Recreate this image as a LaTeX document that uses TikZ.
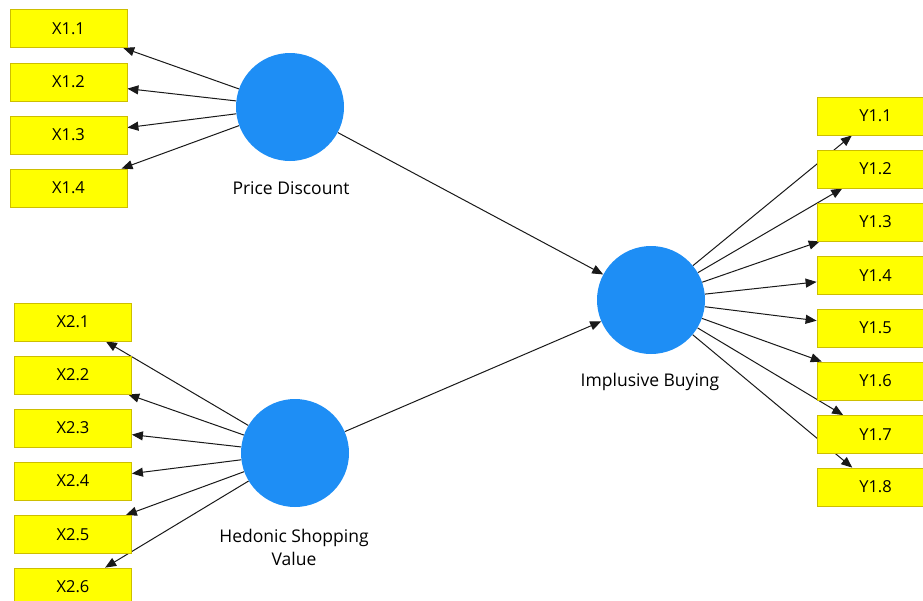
\documentclass[tikz,border=0pt]{standalone}
\usepackage{fontspec}
\setmainfont{Open Sans}
\usetikzlibrary{arrows.meta,backgrounds}
\definecolor{lvblue}{RGB}{30,142,245}
\definecolor{mvyellow}{RGB}{255,255,0}
\definecolor{mvborder}{RGB}{205,190,0}
\tikzset{
  lv/.style={circle,fill=lvblue,draw=none,minimum size=108pt,inner sep=0pt},
  mv/.style={rectangle,fill=mvyellow,draw=mvborder,line width=0.8pt,minimum width=117pt,minimum height=38pt,inner sep=0pt,font=\fontsize{16.5}{18}\selectfont},
  lbl/.style={font=\fontsize{17.5}{23}\selectfont,align=center,inner sep=0pt},
  link/.style={draw=black!90,line width=1pt,-{Triangle[length=11pt,width=9pt]}}
}
\begin{document}
\begin{tikzpicture}[x=1pt,y=-1pt]
\useasboundingbox (0,0) rectangle (923,600);
\clip (0,0) rectangle (923,600);
% latent variables
\node[lv] (pd) at (290,107) {};
\node[lv] (hs) at (295,453) {};
\node[lv] (ib) at (651,300) {};
\node[lbl] (pdl) at (291,188) {Price Discount};
\node[lbl] (hsl) at (294,547) {Hedonic Shopping\\Value};
\node[lbl] (ibl) at (650,382) {Implusive Buying};
% indicators
\node[mv] (x11) at (68.5,28.5) {X1.1};
\node[mv] (x12) at (68.5,82) {X1.2};
\node[mv] (x13) at (68.5,135) {X1.3};
\node[mv] (x14) at (68.5,188) {X1.4};
\node[mv] (x21) at (73,322) {X2.1};
\node[mv] (x22) at (73,375) {X2.2};
\node[mv] (x23) at (73,428) {X2.3};
\node[mv] (x24) at (73,481) {X2.4};
\node[mv] (x25) at (73,534.5) {X2.5};
\node[mv] (x26) at (73,587) {X2.6};
\node[mv] (y11) at (875.5,116) {Y1.1};
\node[mv] (y12) at (875.5,169) {Y1.2};
\node[mv] (y13) at (875.5,222) {Y1.3};
\node[mv] (y14) at (875.5,275.5) {Y1.4};
\node[mv] (y15) at (875.5,328) {Y1.5};
\node[mv] (y16) at (875.5,381) {Y1.6};
\node[mv] (y17) at (875.5,434.5) {Y1.7};
\node[mv] (y18) at (875.5,487) {Y1.8};
\begin{scope}[on background layer]
\fill[white] (0,0) rectangle (923,600);
\foreach \t in {x11,x12,x13,x14} \draw[link] (pd) -- (\t);
\foreach \t in {x21,x22,x23,x24,x25,x26} \draw[link] (hs) -- (\t);
\foreach \t in {y11,y12,y13,y14,y15,y16,y17,y18} \draw[link] (ib) -- (\t);
\draw[link] (pd) -- (ib);
\draw[link] (hs) -- (ib);
\end{scope}
\end{tikzpicture}
\end{document}
